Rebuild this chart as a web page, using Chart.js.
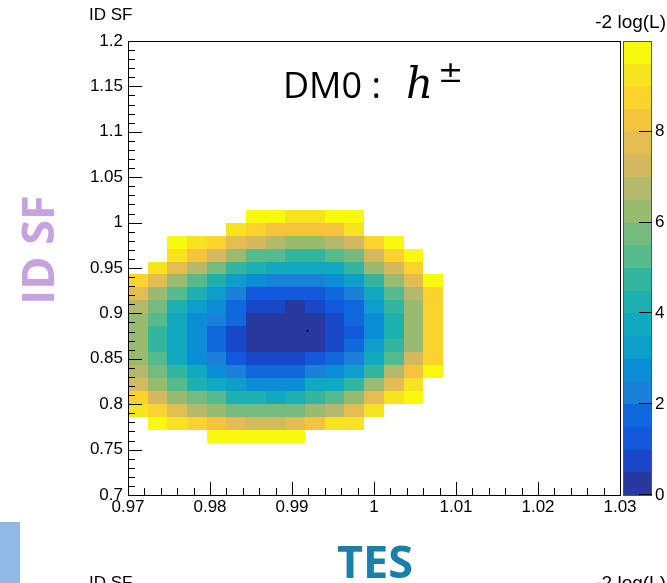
<!DOCTYPE html>
<html lang="en">
<head>
<meta charset="UTF-8" />
<title>DM0 likelihood scan</title>
<script src="https://cdn.jsdelivr.net/npm/chart.js"></script>
<style>
  body { margin: 0; background: #fff; }
  canvas { display: block; }
</style>
</head>
<body>
<canvas id="scan" width="667" height="583"></canvas>
<script>
// bin centres of the filled part of the 2D histogram
const xCenters = [0.9712, 0.9736, 0.9760, 0.9784, 0.9808, 0.9832, 0.9856, 0.9880,
                  0.9904, 0.9928, 0.9952, 0.9976, 1.0000, 1.0024, 1.0048, 1.0072];
const yCenters = [1.00714, 0.99286, 0.97857, 0.96429, 0.95000, 0.93571, 0.92143, 0.90714, 0.89286,
                  0.87857, 0.86429, 0.85000, 0.83571, 0.82143, 0.80714, 0.79286, 0.77857, 0.76429];

// -2 log(L) per cell, one row per yCenters entry (top to bottom), null = empty
const zRows = [
  [null, null, null, null, null, null, 9.7, 9.7, 9.2, 9.2, 9.7, 9.7, null, null, null, null],
  [null, null, null, null, null, 9.2, 8.7, 8.2, 8.2, 8.2, 8.2, 9.2, null, null, null, null],
  [null, null, 9.7, 9.2, 8.7, 7.7, 7.2, 6.7, 6.2, 6.2, 6.7, 7.2, 8.7, 9.7, null, null],
  [null, null, 9.2, 8.2, 7.2, 6.2, 5.2, 5.2, 4.7, 4.7, 5.2, 5.7, 7.2, 8.7, 9.7, null],
  [null, 9.2, 7.7, 6.7, 5.7, 4.7, 4.2, 3.7, 3.7, 3.7, 3.7, 4.7, 6.2, 7.2, 8.7, null],
  [8.7, 7.7, 6.2, 5.2, 4.2, 3.2, 2.7, 2.2, 2.2, 2.2, 2.7, 3.2, 4.7, 6.2, 7.7, 9.7],
  [7.7, 6.2, 5.2, 4.2, 3.2, 2.2, 1.2, 1.2, 1.2, 1.2, 1.7, 2.2, 3.7, 5.2, 6.7, 8.7],
  [6.7, 5.7, 4.2, 3.2, 2.7, 1.7, 0.7, 0.7, 0.2, 0.7, 1.2, 1.7, 3.2, 4.7, 6.2, 8.7],
  [6.2, 5.2, 3.7, 2.7, 2.2, 1.7, 0.2, 0.2, 0.2, 0.2, 0.7, 1.7, 2.7, 4.2, 6.2, 8.7],
  [6.2, 4.7, 3.7, 2.7, 1.7, 0.7, 0.2, 0.2, 0.2, 0.2, 0.7, 1.2, 2.7, 4.2, 6.2, 8.7],
  [6.2, 4.7, 3.7, 2.7, 1.7, 0.7, 0.2, 0.2, 0.2, 0.2, 0.7, 1.7, 3.2, 4.7, 6.2, 8.7],
  [6.2, 5.2, 3.7, 2.7, 2.2, 1.2, 0.7, 0.7, 0.7, 1.2, 1.7, 2.2, 3.7, 5.2, 7.2, 8.7],
  [6.7, 5.7, 4.7, 3.7, 2.7, 2.2, 1.7, 1.7, 1.7, 2.2, 2.7, 3.2, 4.7, 6.7, 8.2, 9.7],
  [7.2, 6.2, 5.2, 4.2, 3.7, 3.2, 2.7, 2.7, 2.7, 3.7, 3.7, 4.7, 6.2, 7.7, 9.2, null],
  [8.7, 7.2, 6.2, 5.7, 5.2, 4.2, 4.2, 3.7, 4.2, 4.7, 5.2, 6.2, 7.7, 9.2, 9.7, null],
  [9.2, 8.7, 7.7, 6.7, 6.2, 5.7, 5.7, 5.7, 5.7, 6.2, 6.7, 7.7, 9.2, null, null, null],
  [null, 9.7, 9.2, 8.7, 8.2, 7.7, 7.2, 7.2, 7.7, 8.2, 9.2, 9.2, null, null, null, null],
  [null, null, null, null, 9.7, 9.7, 9.7, 9.7, 9.7, null, null, null, null, null, null, null]
];

const bestFit = [{ x: 0.9919, y: 0.881 }];

const xTicks = [0.97, 0.98, 0.99, 1.0, 1.01, 1.02, 1.03];
const xTickLabels = ['0.97', '0.98', '0.99', '1', '1.01', '1.02', '1.03'];
const yTicks = [0.7, 0.75, 0.8, 0.85, 0.9, 0.95, 1.0, 1.05, 1.1, 1.15, 1.2];
const yTickLabels = ['0.7', '0.75', '0.8', '0.85', '0.9', '0.95', '1', '1.05', '1.1', '1.15', '1.2'];
const zTicks = [0, 2, 4, 6, 8];
const zTickLabels = ['0', '2', '4', '6', '8'];

const binW = 0.0024;
const binH = 0.5 / 35;
const zMax = 10;
// 20 contour colours, bottom (0) to top (10)
const palette = ['#283a9f', '#1848c8', '#1258dc', '#1068dc', '#1a80d8', '#0b8ed5', '#0e9ecc', '#10aac0',
                 '#1eb0b0', '#33b5a0', '#56bb8c', '#76ba80', '#98bb70', '#b5b96a', '#d4ba5e', '#e3bd52',
                 '#f5c43c', '#fcd22e', '#f8e41e', '#f9f90e'];
const labelFont = '17px "Liberation Sans", Arial, sans-serif';

function colorFor(v) {
  const n = palette.length;
  const k = Math.min(n - 1, Math.max(0, Math.floor(v / zMax * n)));
  return palette[k];
}

const rootStyle = {
  id: 'rootStyle',
  beforeDraw(chart) {
    const ctx = chart.ctx;
    ctx.save();
    ctx.fillStyle = '#fff';
    ctx.fillRect(0, 0, chart.width, chart.height);
    ctx.restore();
  },
  beforeDatasetsDraw(chart) {
    const { ctx, scales: { x, y } } = chart;
    ctx.save();
    zRows.forEach((row, j) => {
      row.forEach((v, i) => {
        if (v === null) return;
        const x0 = Math.round(x.getPixelForValue(xCenters[i] - binW / 2));
        const x1 = Math.round(x.getPixelForValue(xCenters[i] + binW / 2));
        const y0 = Math.round(y.getPixelForValue(yCenters[j] + binH / 2));
        const y1 = Math.round(y.getPixelForValue(yCenters[j] - binH / 2));
        ctx.fillStyle = colorFor(v);
        ctx.fillRect(x0, y0, x1 - x0, y1 - y0);
      });
    });
    ctx.restore();
  },
  afterDraw(chart) {
    const { ctx, chartArea: a, scales: { x, y, z } } = chart;
    ctx.save();

    // frame
    ctx.strokeStyle = '#000';
    ctx.lineWidth = 1;
    ctx.strokeRect(a.left + 0.5, a.top + 0.5, a.right - a.left, a.bottom - a.top);

    // x ticks (major + 4 minor)
    ctx.beginPath();
    for (let i = 0; i < xTicks.length; i++) {
      const px = Math.round(x.getPixelForValue(xTicks[i])) + 0.5;
      ctx.moveTo(px, a.bottom); ctx.lineTo(px, a.bottom - 13);
      if (i < xTicks.length - 1) {
        for (let m = 1; m < 5; m++) {
          const mx = Math.round(x.getPixelForValue(xTicks[i] + (xTicks[i + 1] - xTicks[i]) * m / 5)) + 0.5;
          ctx.moveTo(mx, a.bottom); ctx.lineTo(mx, a.bottom - 7);
        }
      }
    }
    // y ticks
    for (let i = 0; i < yTicks.length; i++) {
      const py = Math.round(y.getPixelForValue(yTicks[i])) + 0.5;
      ctx.moveTo(a.left, py); ctx.lineTo(a.left + 14, py);
      if (i < yTicks.length - 1) {
        for (let m = 1; m < 5; m++) {
          const my = Math.round(y.getPixelForValue(yTicks[i] + (yTicks[i + 1] - yTicks[i]) * m / 5)) + 0.5;
          ctx.moveTo(a.left, my); ctx.lineTo(a.left + 7, my);
        }
      }
    }
    ctx.stroke();

    // tick labels
    ctx.fillStyle = '#000';
    ctx.font = labelFont;
    ctx.textAlign = 'center';
    ctx.textBaseline = 'top';
    xTicks.forEach((t, i) => ctx.fillText(xTickLabels[i], x.getPixelForValue(t), a.bottom + 4));
    ctx.textAlign = 'right';
    ctx.textBaseline = 'middle';
    yTicks.forEach((t, i) => ctx.fillText(yTickLabels[i], a.left - 5, y.getPixelForValue(t)));

    // colour bar
    const cl = a.right + 3, cr = a.right + 32;
    for (let k = 0; k < palette.length; k++) {
      const yb = Math.round(z.getPixelForValue(k * zMax / palette.length));
      const yt = Math.round(z.getPixelForValue((k + 1) * zMax / palette.length));
      ctx.fillStyle = palette[k];
      ctx.fillRect(cl, yt, cr - cl, yb - yt);
    }
    ctx.strokeStyle = '#555';
    ctx.strokeRect(cl + 0.5, a.top + 0.5, cr - cl - 1, a.bottom - a.top);
    ctx.strokeStyle = '#000';
    ctx.beginPath();
    zTicks.forEach(t => {
      const py = Math.round(z.getPixelForValue(t)) - 0.5;
      ctx.moveTo(cr, py); ctx.lineTo(cr - 13, py);
    });
    ctx.stroke();
    ctx.fillStyle = '#000';
    ctx.textAlign = 'left';
    zTicks.forEach((t, i) => ctx.fillText(zTickLabels[i], cr + 3, z.getPixelForValue(t)));

    // axis titles of the ROOT canvas
    ctx.textBaseline = 'alphabetic';
    ctx.textAlign = 'left';
    ctx.fillText('ID SF', 89, 20);
    ctx.fillText('ID SF', 89, 588);
    ctx.textAlign = 'right';
    ctx.font = '19px "Liberation Sans", Arial, sans-serif';
    ctx.fillText('-2 log(L)', 666, 28);
    ctx.fillText('-2 log(L)', 666, 589);

    // category label inside the frame
    ctx.textAlign = 'left';
    ctx.font = '36px "Open Sans", sans-serif';
    ctx.fillText('DM0 :', 283, 98);
    ctx.font = 'italic 42px "DejaVu Serif", serif';
    ctx.fillText('h', 406, 98);
    ctx.font = '30px "DejaVu Serif", serif';
    ctx.fillText('\u00b1', 438, 82);

    // slide labels
    ctx.fillStyle = '#8fb8e4';
    ctx.fillRect(0, 522, 20, 61);
    ctx.fillStyle = '#1b80a9';
    ctx.font = 'bold 45px "Open Sans", sans-serif';
    ctx.textAlign = 'center';
    ctx.fillText('TES', 375, 578);
    ctx.translate(54, 250);
    ctx.rotate(-Math.PI / 2);
    ctx.fillStyle = '#c6a2e0';
    ctx.fillText('ID SF', 0, 0);

    ctx.restore();
  }
};

new Chart(document.getElementById('scan'), {
  type: 'scatter',
  data: {
    datasets: [{
      label: 'best fit',
      data: bestFit,
      pointRadius: 1,
      pointBackgroundColor: '#000',
      pointBorderWidth: 0
    }]
  },
  options: {
    responsive: false,
    animation: false,
    layout: { padding: { left: 128, top: 41, right: 47, bottom: 88 } },
    plugins: { legend: { display: false }, tooltip: { enabled: false } },
    scales: {
      x: { type: 'linear', min: 0.97, max: 1.03, display: false },
      y: { type: 'linear', min: 0.7, max: 1.2, display: false },
      z: { type: 'linear', position: 'right', min: 0, max: zMax, display: false }
    }
  },
  plugins: [rootStyle]
});
</script>
</body>
</html>
